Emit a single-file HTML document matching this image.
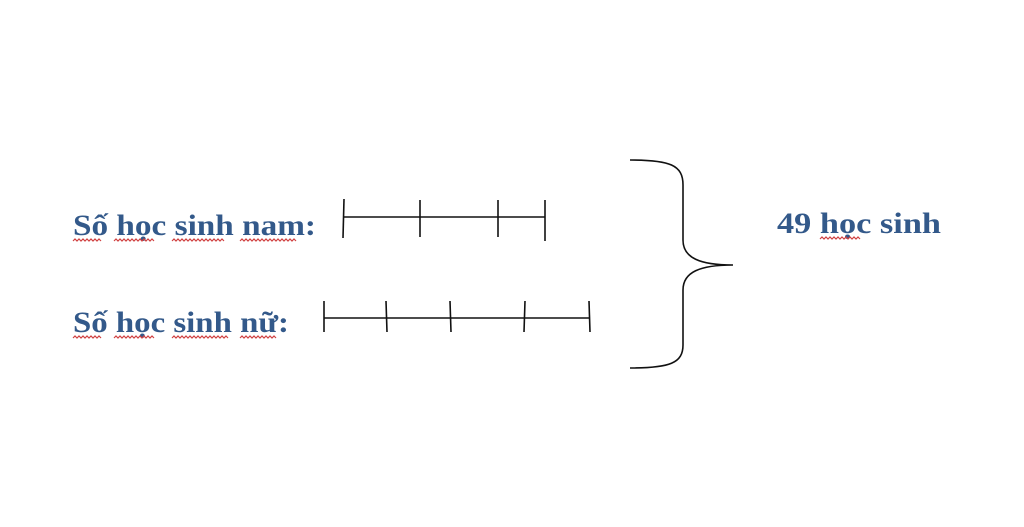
<!DOCTYPE html>
<html><head><meta charset="utf-8"><style>body{margin:0;background:#fff;}svg{display:block}</style></head>
<body><svg width="1024" height="527" xmlns="http://www.w3.org/2000/svg">
<g font-family="Liberation Serif, serif" font-weight="bold" font-size="30" fill="#33598a">
<text x="73" y="235" textLength="243" lengthAdjust="spacingAndGlyphs">Số học sinh nam:</text>
<text x="73" y="332" textLength="216" lengthAdjust="spacingAndGlyphs">Số học sinh nữ:</text>
<text x="777" y="233" textLength="164" lengthAdjust="spacingAndGlyphs">49 học sinh</text>
</g>
<g stroke="#d04040" stroke-width="1.2" fill="none">
<path d="M73 241 l2 -2 l2 2 l2 -2 l2 2 l2 -2 l2 2 l2 -2 l2 2 l2 -2 l2 2 l2 -2 l2 2 l2 -2 l2 2"/>
<path d="M114 241 l2 -2 l2 2 l2 -2 l2 2 l2 -2 l2 2 l2 -2 l2 2 l2 -2 l2 2 l2 -2 l2 2 l2 -2 l2 2 l2 -2 l2 2 l2 -2 l2 2 l2 -2 l2 2"/>
<path d="M172 241 l2 -2 l2 2 l2 -2 l2 2 l2 -2 l2 2 l2 -2 l2 2 l2 -2 l2 2 l2 -2 l2 2 l2 -2 l2 2 l2 -2 l2 2 l2 -2 l2 2 l2 -2 l2 2 l2 -2 l2 2 l2 -2 l2 2 l2 -2 l2 2"/>
<path d="M240 241 l2 -2 l2 2 l2 -2 l2 2 l2 -2 l2 2 l2 -2 l2 2 l2 -2 l2 2 l2 -2 l2 2 l2 -2 l2 2 l2 -2 l2 2 l2 -2 l2 2 l2 -2 l2 2 l2 -2 l2 2 l2 -2 l2 2 l2 -2 l2 2 l2 -2 l2 2"/>
<path d="M73 338 l2 -2 l2 2 l2 -2 l2 2 l2 -2 l2 2 l2 -2 l2 2 l2 -2 l2 2 l2 -2 l2 2 l2 -2 l2 2"/>
<path d="M114 338 l2 -2 l2 2 l2 -2 l2 2 l2 -2 l2 2 l2 -2 l2 2 l2 -2 l2 2 l2 -2 l2 2 l2 -2 l2 2 l2 -2 l2 2 l2 -2 l2 2 l2 -2 l2 2"/>
<path d="M172 338 l2 -2 l2 2 l2 -2 l2 2 l2 -2 l2 2 l2 -2 l2 2 l2 -2 l2 2 l2 -2 l2 2 l2 -2 l2 2 l2 -2 l2 2 l2 -2 l2 2 l2 -2 l2 2 l2 -2 l2 2 l2 -2 l2 2 l2 -2 l2 2 l2 -2 l2 2"/>
<path d="M240 338 l2 -2 l2 2 l2 -2 l2 2 l2 -2 l2 2 l2 -2 l2 2 l2 -2 l2 2 l2 -2 l2 2 l2 -2 l2 2 l2 -2 l2 2 l2 -2 l2 2"/>
<path d="M820 239 l2 -2 l2 2 l2 -2 l2 2 l2 -2 l2 2 l2 -2 l2 2 l2 -2 l2 2 l2 -2 l2 2 l2 -2 l2 2 l2 -2 l2 2 l2 -2 l2 2 l2 -2 l2 2"/>
</g>
<g stroke="#111" stroke-width="1.6" fill="none">
<line x1="344" y1="217" x2="545" y2="217"/>
<line x1="344" y1="199" x2="343" y2="238"/>
<line x1="420" y1="200" x2="420" y2="237"/>
<line x1="498" y1="200" x2="498" y2="237"/>
<line x1="545" y1="200" x2="545" y2="241"/>
<line x1="324" y1="318" x2="590" y2="318"/>
<line x1="324" y1="301" x2="324" y2="332"/>
<line x1="386" y1="301" x2="387" y2="332"/>
<line x1="450" y1="301" x2="451" y2="332"/>
<line x1="525" y1="301" x2="524" y2="332"/>
<line x1="589" y1="301" x2="590" y2="332"/>
<path d="M630 160 C670 160 683 165 683 185 L683 240 C683 258 700 265 733 265 C700 265 683 272 683 290 L683 345 C683 363 670 368 630 368"/>
</g>
</svg></body></html>
